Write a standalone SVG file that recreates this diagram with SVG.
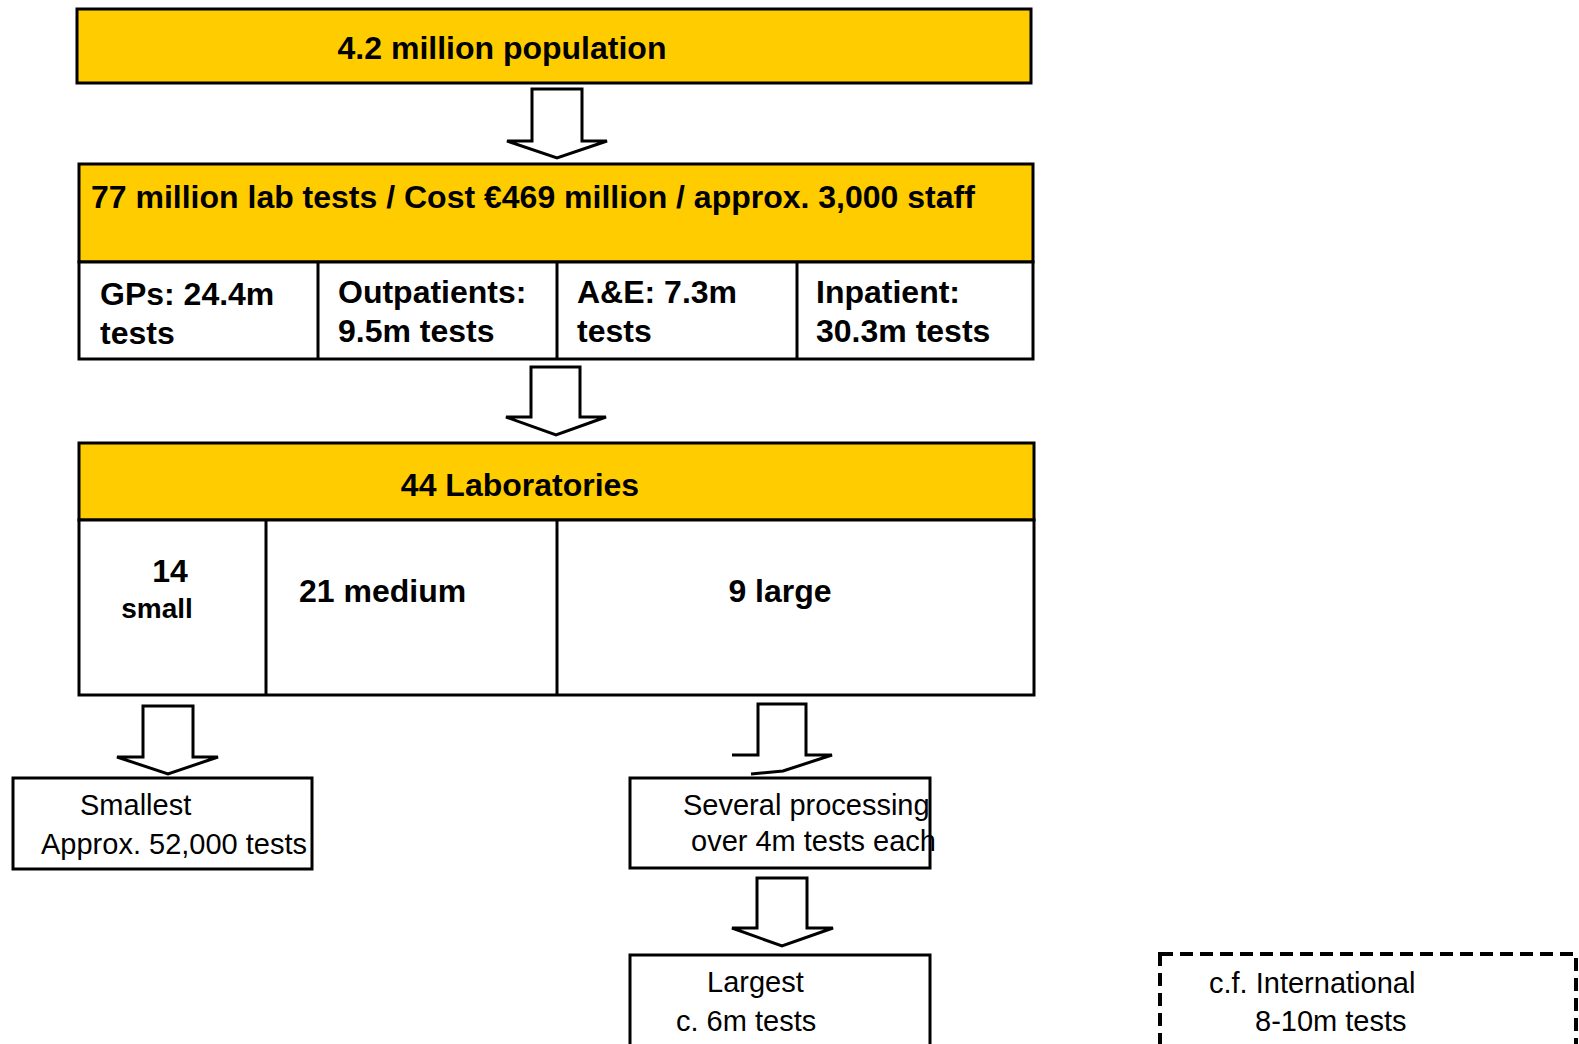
<svg xmlns="http://www.w3.org/2000/svg" width="1579" height="1044" viewBox="0 0 1579 1044">
<style>
.box{fill:#fff;stroke:#000;stroke-width:3}
.yel{fill:#FFCC00;stroke:#000;stroke-width:3}
.ln{stroke:#000;stroke-width:3;fill:none}
.arr{fill:#fff;stroke:#000;stroke-width:3;stroke-linejoin:miter}
.b{font-family:"Liberation Sans",Arial,sans-serif;font-weight:bold;font-size:32px;fill:#000}
.n{font-family:"Liberation Sans",Arial,sans-serif;font-size:29px;fill:#000}
.dash{fill:#fff;stroke:#000;stroke-width:4;stroke-dasharray:13 7}
</style>
<rect width="1579" height="1044" fill="#fff"/>
<g id="population">
<rect class="yel" x="77" y="9" width="954" height="74"/>
<text class="b" x="502" y="59" text-anchor="middle">4.2 million population</text>
</g>
<g id="tests">
<rect class="yel" x="79" y="164" width="954" height="98"/>
<rect class="box" x="79" y="262" width="954" height="97"/>
<line class="ln" x1="318" y1="262" x2="318" y2="359"/>
<line class="ln" x1="557" y1="262" x2="557" y2="359"/>
<line class="ln" x1="797" y1="262" x2="797" y2="359"/>
<text class="b" x="91" y="208">77 million lab tests / Cost €469 million / approx. 3,000 staff</text>
<text class="b" x="100" y="305">GPs: 24.4m</text>
<text class="b" x="100" y="344">tests</text>
<text class="b" x="338" y="303">Outpatients:</text>
<text class="b" x="338" y="342">9.5m tests</text>
<text class="b" x="577" y="303">A&amp;E: 7.3m</text>
<text class="b" x="577" y="342">tests</text>
<text class="b" x="816" y="303">Inpatient:</text>
<text class="b" x="816" y="342">30.3m tests</text>
</g>
<g id="labs">
<rect class="yel" x="79" y="443" width="955" height="77"/>
<rect class="box" x="79" y="520" width="955" height="175"/>
<line class="ln" x1="266" y1="520" x2="266" y2="695"/>
<line class="ln" x1="557" y1="520" x2="557" y2="695"/>
<text class="b" x="520" y="496" text-anchor="middle">44 Laboratories</text>
<text class="b" x="170" y="582" text-anchor="middle">14</text>
<text class="b" x="157" y="618" text-anchor="middle" style="font-size:28px">small</text>
<text class="b" x="299" y="602">21 medium</text>
<text class="b" x="780" y="602" text-anchor="middle">9 large</text>
</g>
<g id="smallest">
<rect class="box" x="13" y="778" width="299" height="91"/>
<text class="n" x="80" y="815">Smallest</text>
<text class="n" x="41" y="854">Approx. 52,000 tests</text>
</g>
<g id="processing">
<rect class="box" x="630" y="778" width="300" height="90"/>
<text class="n" x="683" y="815">Several processing</text>
<text class="n" x="691" y="851">over 4m tests each</text>
</g>
<g id="largest">
<rect class="box" x="630" y="955" width="300" height="100"/>
<text class="n" x="707" y="992">Largest</text>
<text class="n" x="676" y="1031">c. 6m tests</text>
</g>
<g id="international">
<rect class="dash" x="1160" y="954" width="416" height="100"/>
<text class="n" x="1209" y="993">c.f. International</text>
<text class="n" x="1255" y="1031">8-10m tests</text>
</g>
<g id="connectors">
<path class="arr" d="M532,89 L582,89 L582,141 L607,141 L557,158 L507,141 L532,141 Z"/>
<path class="arr" d="M531,367 L580,367 L580,417 L606,417 L556,435 L506,417 L531,417 Z"/>
<path class="arr" d="M143,706 L193,706 L193,757 L218,757 L168,774 L117,757 L143,757 Z"/>
<path class="ln" d="M732,755 L758,755 L758,704 L806,704 L806,755 L832,755 L783,771 L751,774"/>
<path class="arr" d="M757,878 L807,878 L807,928 L833,928 L782,946 L732,928 L757,928 Z"/>
</g>
</svg>
